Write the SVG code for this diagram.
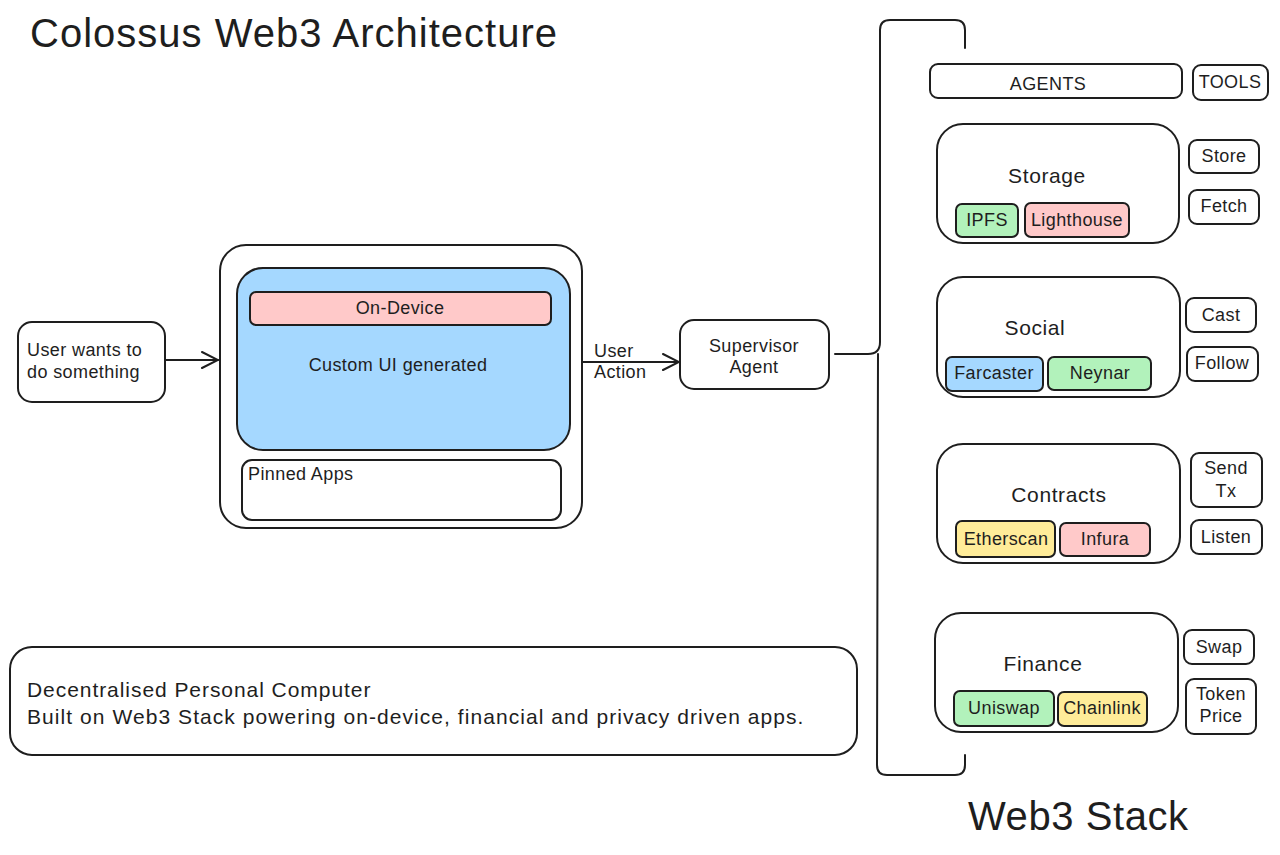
<svg xmlns="http://www.w3.org/2000/svg" width="1280" height="855" viewBox="0 0 1280 855">
<defs>
<style>
.b{fill:#fff;stroke:#1e1e1e;stroke-width:2}
.t{font-family:"Liberation Sans",Arial,sans-serif;fill:#1e1e1e;font-size:18px;letter-spacing:0.4px}
.c{text-anchor:middle}
.h{font-size:40px;letter-spacing:0}
.m{font-size:21px;letter-spacing:0.6px}
.g{fill:#b2f2bb;stroke:#1e1e1e;stroke-width:2}
.p{fill:#ffc9c9;stroke:#1e1e1e;stroke-width:2}
.bl{fill:#a5d8ff;stroke:#1e1e1e;stroke-width:2}
.y{fill:#ffec99;stroke:#1e1e1e;stroke-width:2}
.ln{fill:none;stroke:#1e1e1e;stroke-width:2;stroke-linecap:round;stroke-linejoin:round}
</style>
<marker id="ar" viewBox="0 0 20 20" refX="18" refY="10" markerWidth="20" markerHeight="20" markerUnits="userSpaceOnUse" orient="auto">
<path d="M2,2 L18,10 L2,18" fill="none" stroke="#1e1e1e" stroke-width="2" stroke-linecap="round"/>
</marker>
</defs>
<rect width="1280" height="855" fill="#fff"/>

<text class="t h" x="30" y="47" textLength="527" lengthAdjust="spacing">Colossus Web3 Architecture</text>
<text class="t h" x="968" y="830" textLength="220" lengthAdjust="spacing">Web3 Stack</text>

<g id="user">
<rect class="b" x="18" y="322" width="147" height="80" rx="14"/>
<text class="t" x="27" y="356">User wants to</text>
<text class="t" x="27" y="378">do something</text>
</g>

<g id="device">
<rect class="b" x="220" y="245" width="362" height="283" rx="26"/>
<rect class="bl" x="237" y="268" width="333" height="182" rx="26"/>
<rect class="p" x="250" y="292" width="301" height="33" rx="6"/>
<text class="t c" x="400" y="314">On-Device</text>
<text class="t c" x="398" y="371">Custom UI generated</text>
<rect class="b" x="242" y="460" width="319" height="60" rx="10"/>
<text class="t" x="248" y="480">Pinned Apps</text>
</g>

<g id="supervisor">
<rect class="b" x="680" y="320" width="149" height="69" rx="14"/>
<text class="t c" x="754" y="352">Supervisor</text>
<text class="t c" x="754" y="373">Agent</text>
</g>

<g id="summary">
<rect class="b" x="10" y="647" width="847" height="108" rx="22"/>
<text class="t m" x="27" y="697" textLength="344" lengthAdjust="spacing">Decentralised Personal Computer</text>
<text class="t m" x="27" y="724" textLength="777" lengthAdjust="spacing">Built on Web3 Stack powering on-device, financial and privacy driven apps.</text>
</g>

<g id="agents">
<rect class="b" x="930" y="64" width="252" height="34" rx="8"/>
<text class="t c" x="1048" y="90">AGENTS</text>
</g>
<g id="tools">
<rect class="b" x="1193" y="65" width="75" height="35" rx="8"/>
<text class="t c" x="1230" y="88">TOOLS</text>
</g>

<g id="storage">
<rect class="b" x="937" y="124" width="242" height="119" rx="26"/>
<text class="t c m" x="1047" y="183">Storage</text>
<rect class="g" x="956" y="204" width="62" height="33" rx="6"/>
<text class="t c" x="987" y="226">IPFS</text>
<rect class="p" x="1025" y="203" width="104" height="34" rx="6"/>
<text class="t c" x="1077" y="226">Lighthouse</text>
</g>
<g id="store"><rect class="b" x="1189" y="140" width="70" height="33" rx="8"/><text class="t c" x="1224" y="162">Store</text></g>
<g id="fetch"><rect class="b" x="1189" y="190" width="70" height="34" rx="8"/><text class="t c" x="1224" y="212">Fetch</text></g>

<g id="social">
<rect class="b" x="937" y="277" width="243" height="120" rx="26"/>
<text class="t c m" x="1035" y="335">Social</text>
<rect class="bl" x="946" y="357" width="97" height="34" rx="6"/>
<text class="t c" x="994" y="379">Farcaster</text>
<rect class="g" x="1048" y="357" width="103" height="33" rx="6"/>
<text class="t c" x="1100" y="379">Neynar</text>
</g>
<g id="cast"><rect class="b" x="1186" y="298" width="70" height="34" rx="8"/><text class="t c" x="1221" y="321">Cast</text></g>
<g id="follow"><rect class="b" x="1187" y="347" width="71" height="34" rx="8"/><text class="t c" x="1222" y="369">Follow</text></g>

<g id="contracts">
<rect class="b" x="937" y="444" width="243" height="119" rx="26"/>
<text class="t c m" x="1059" y="502">Contracts</text>
<rect class="y" x="956" y="521" width="99" height="36" rx="6"/>
<text class="t c" x="1006" y="545">Etherscan</text>
<rect class="p" x="1060" y="523" width="90" height="33" rx="6"/>
<text class="t c" x="1105" y="545">Infura</text>
</g>
<g id="sendtx"><rect class="b" x="1191" y="453" width="71" height="54" rx="8"/><text class="t c" x="1226" y="474">Send</text><text class="t c" x="1226" y="497">Tx</text></g>
<g id="listen"><rect class="b" x="1191" y="520" width="71" height="34" rx="8"/><text class="t c" x="1226" y="543">Listen</text></g>

<g id="finance">
<rect class="b" x="935" y="613" width="243" height="119" rx="26"/>
<text class="t c m" x="1043" y="671">Finance</text>
<rect class="g" x="954" y="691" width="100" height="35" rx="6"/>
<text class="t c" x="1004" y="714">Uniswap</text>
<rect class="y" x="1058" y="692" width="89" height="34" rx="6"/>
<text class="t c" x="1102" y="714">Chainlink</text>
</g>
<g id="swap"><rect class="b" x="1184" y="630" width="70" height="34" rx="8"/><text class="t c" x="1219" y="653">Swap</text></g>
<g id="tokenprice"><rect class="b" x="1186" y="679" width="70" height="55" rx="8"/><text class="t c" x="1221" y="700">Token</text><text class="t c" x="1221" y="722">Price</text></g>

<g id="connectors">
<line class="ln" x1="165" y1="360" x2="218" y2="360" marker-end="url(#ar)"/>
<line class="ln" x1="582" y1="362" x2="679" y2="362" marker-end="url(#ar)"/>
<text class="t" x="594" y="357">User</text>
<text class="t" x="594" y="378">Action</text>
<path class="ln" d="M965,48 L965,30 Q965,20 955,20 L890,20 Q880,20 880,30 L880,342 Q880,354 868,354 L835,354"/>
<path class="ln" d="M878,354 L877,765 Q877,775 887,775 L955,775 Q965,775 965,765 L965,755"/>
</g>
</svg>
